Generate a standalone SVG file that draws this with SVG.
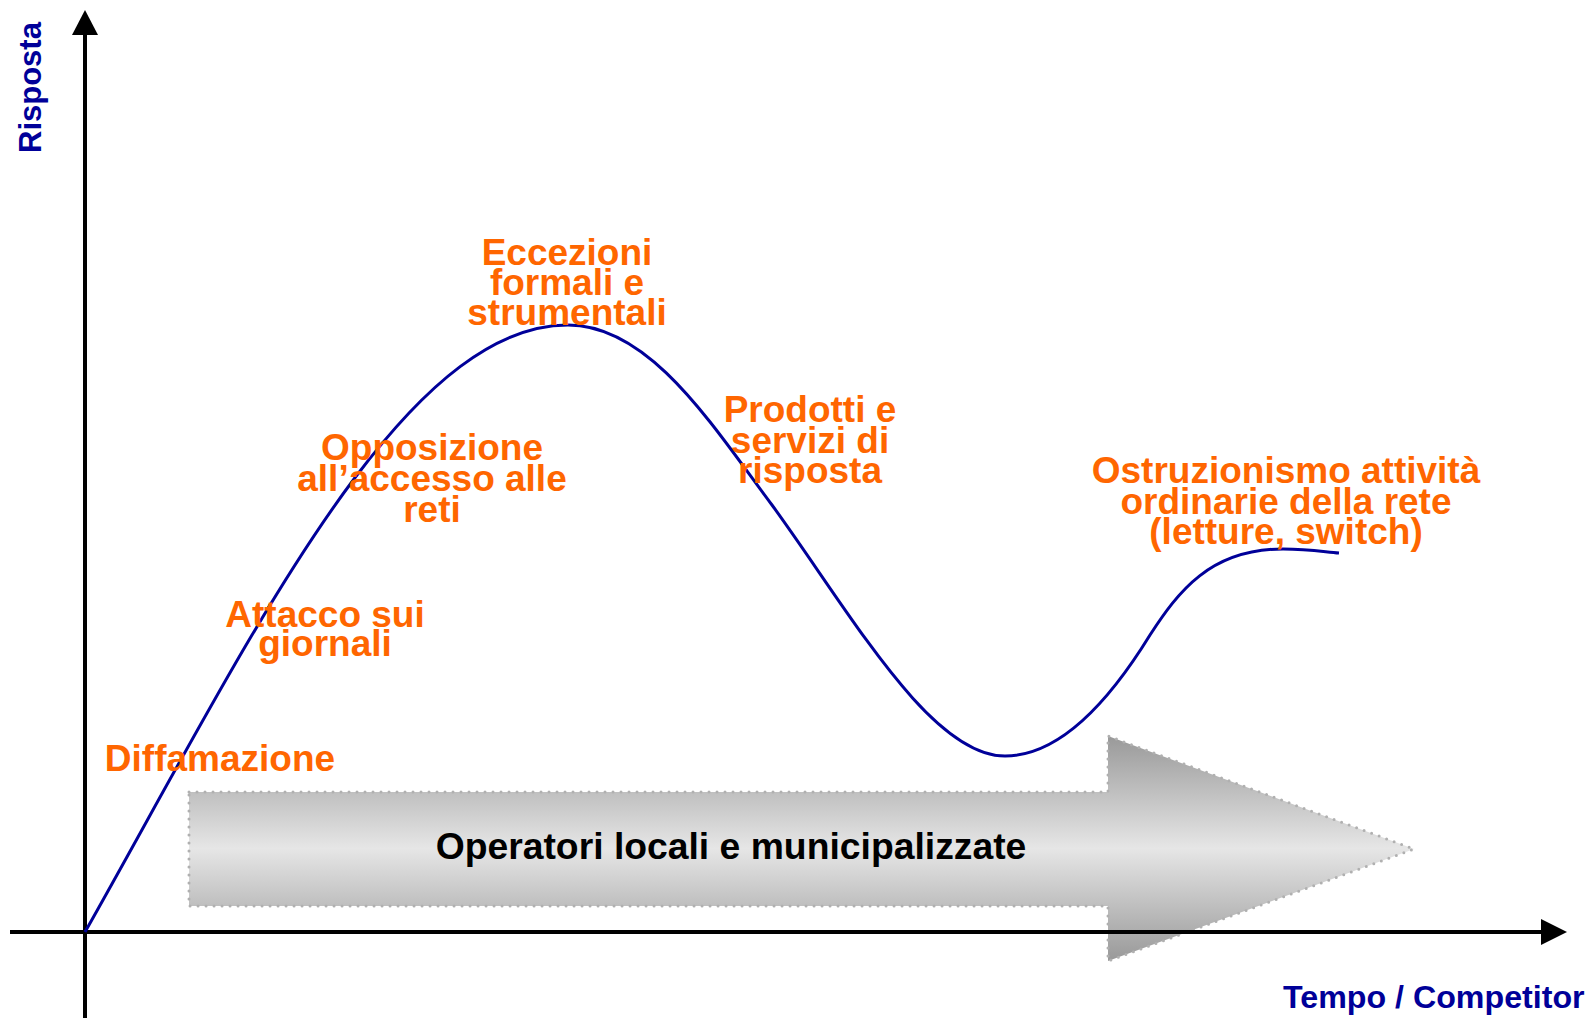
<svg xmlns="http://www.w3.org/2000/svg" width="1588" height="1018" viewBox="0 0 1588 1018">
  <style>
    .phase { font-family: "Liberation Sans", Arial, sans-serif; font-weight: bold; font-size: 37px; fill: #ff6600; text-anchor: middle; }
    .axis-label { font-family: "Liberation Sans", Arial, sans-serif; font-weight: bold; font-size: 31px; fill: #000099; }
    .axis-label.wide { font-size: 32.2px; }
    .band-label { font-family: "Liberation Sans", Arial, sans-serif; font-weight: bold; font-size: 37.3px; fill: #000000; text-anchor: middle; }
    .axis { stroke: #000000; stroke-width: 4; fill: none; }
    .curve { stroke: #000099; stroke-width: 3; fill: none; }
    .band { fill: url(#bandFill); stroke: #b0b0b0; stroke-width: 3; stroke-dasharray: 0 8; stroke-linecap: round; stroke-linejoin: round; }
  </style>
  <defs>
    <linearGradient id="bandFill" x1="0" y1="0" x2="0" y2="1">
      <stop offset="0" stop-color="#999999"/>
      <stop offset="0.5" stop-color="#e6e6e6"/>
      <stop offset="1" stop-color="#999999"/>
    </linearGradient>
  </defs>

  <rect width="1588" height="1018" fill="#ffffff"/>

  <!-- wide block arrow along the time axis -->
  <g id="operatori">
    <polygon class="band" points="189,792 1108,792 1108,736 1414,849 1108,961 1108,906 189,906"/>
    <text class="band-label" x="731" y="859">Operatori locali e municipalizzate</text>
  </g>

  <!-- axes and response curve -->
  <g id="connectors">
    <line class="axis" x1="85" y1="1018" x2="85" y2="33"/>
    <polygon points="85,10 72,35 98,35" fill="#000000"/>
    <line class="axis" x1="10" y1="932" x2="1543" y2="932"/>
    <polygon points="1567,932 1541,919 1541,945" fill="#000000"/>
    <path class="curve" d="M85,932 C250,640 400,325 568,325 C650,325 712,425 772,505 C850,612 930,756 1005,756 C1060,756 1110,700 1150,635 C1178,592 1210,549 1283,549 C1310,549 1325,552 1339,553"/>
  </g>

  <g id="axis-y-label">
    <text class="axis-label" transform="translate(41,153) rotate(-90)">Risposta</text>
  </g>
  <g id="axis-x-label">
    <text class="axis-label wide" x="1283" y="1008">Tempo / Competitor</text>
  </g>

  <!-- phase labels -->
  <g id="diffamazione">
    <text class="phase" x="220" y="771">Diffamazione</text>
  </g>
  <g id="attacco">
    <text class="phase" x="325" y="627">Attacco sui</text>
    <text class="phase" x="325" y="656">giornali</text>
  </g>
  <g id="opposizione">
    <text class="phase" x="432" y="460">Opposizione</text>
    <text class="phase" x="432" y="491">all’accesso alle</text>
    <text class="phase" x="432" y="522">reti</text>
  </g>
  <g id="eccezioni">
    <text class="phase" x="567" y="265">Eccezioni</text>
    <text class="phase" x="567" y="295">formali e</text>
    <text class="phase" x="567" y="325">strumentali</text>
  </g>
  <g id="prodotti">
    <text class="phase" x="810" y="422">Prodotti e</text>
    <text class="phase" x="810" y="453">servizi di</text>
    <text class="phase" x="810" y="483">risposta</text>
  </g>
  <g id="ostruzionismo">
    <text class="phase" x="1286" y="483">Ostruzionismo attività</text>
    <text class="phase" x="1286" y="514">ordinarie della rete</text>
    <text class="phase" x="1286" y="544">(letture, switch)</text>
  </g>
</svg>
